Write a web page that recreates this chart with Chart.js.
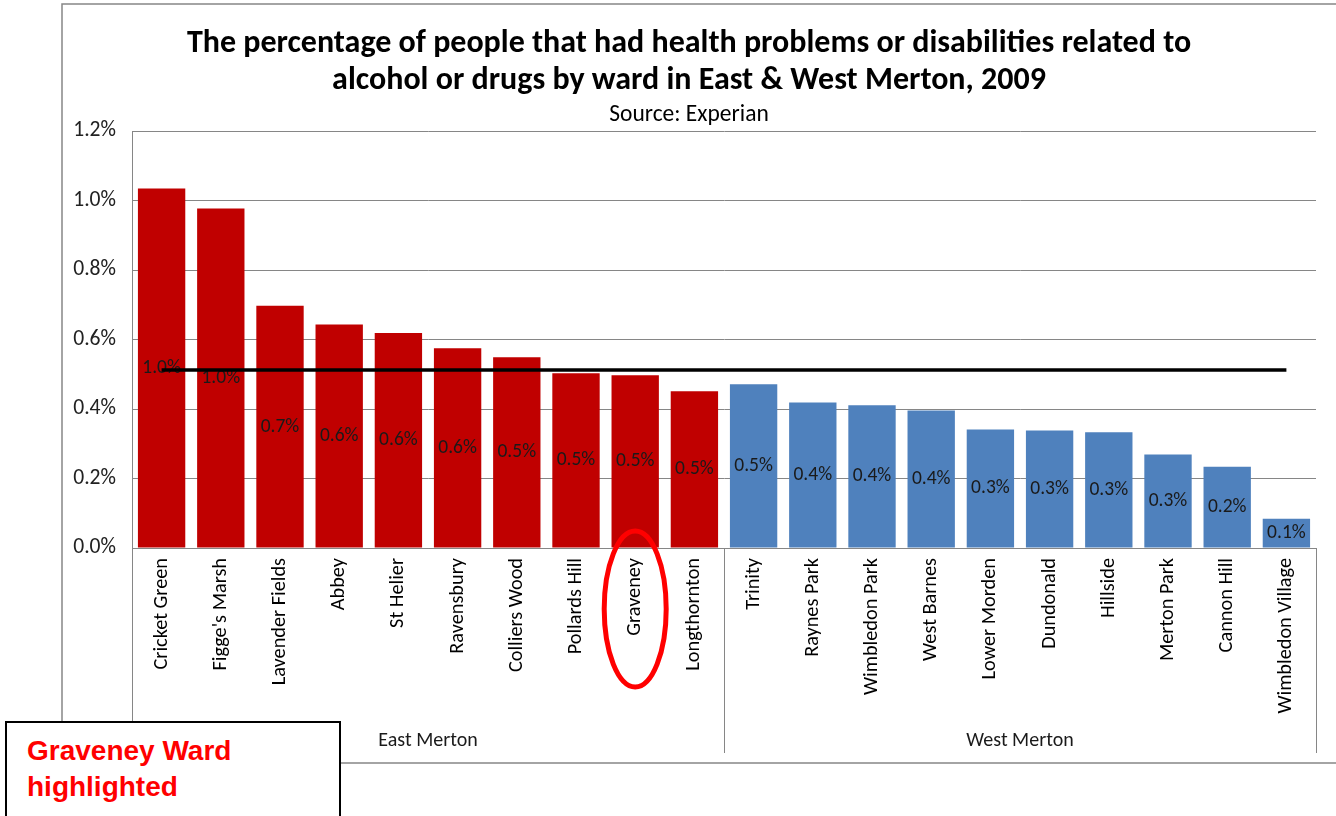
<!DOCTYPE html>
<html>
<head>
<meta charset="utf-8">
<script src="https://cdn.jsdelivr.net/npm/chart.js@4"></script>
<style>
  html, body { margin: 0; padding: 0; background: #fff; }
  #wrap { position: relative; width: 1336px; height: 816px; }
  #note {
    position: absolute; left: 5px; top: 721px; width: 336px; height: 110px;
    border: 2px solid #000; background: #fff; box-sizing: border-box;
    padding: 10px 0 0 20px;
    font: bold 28px "Liberation Sans", Arial, sans-serif; line-height: 36px; color: #ff0000;
  }
</style>
</head>
<body>
<div id="wrap">
  <canvas id="wardChart"></canvas>
  <div id="note">Graveney Ward<br>highlighted</div>
</div>
<script>
// Ward data (percent of people)
const wards = ['Cricket Green', "Figge's Marsh", 'Lavender Fields', 'Abbey', 'St Helier', 'Ravensbury',
  'Colliers Wood', 'Pollards Hill', 'Graveney', 'Longthornton',
  'Trinity', 'Raynes Park', 'Wimbledon Park', 'West Barnes', 'Lower Morden', 'Dundonald',
  'Hillside', 'Merton Park', 'Cannon Hill', 'Wimbledon Village'];
const values = [1.035, 0.977, 0.697, 0.643, 0.619, 0.575, 0.549, 0.503, 0.497, 0.451,
  0.471, 0.419, 0.411, 0.396, 0.341, 0.338, 0.333, 0.269, 0.234, 0.084];
const areas = ['East Merton', 'West Merton'];
const areaCounts = [10, 10];
const mertonAverage = 0.512;
const yTicks = [0, 0.2, 0.4, 0.6, 0.8, 1.0, 1.2];
const highlightWard = 'Graveney';

const areaColours = { 'East Merton': '#c00000', 'West Merton': '#4f81bd' };
const barColours = [];
areas.forEach((a, i) => { for (let k = 0; k < areaCounts[i]; k++) barColours.push(areaColours[a]); });

const FONT = "Carlito, 'Open Sans', sans-serif";
const GREY = '#868686';

// value labels in the middle of each bar, before the average line goes on top
const barLabels = {
  id: 'barLabels',
  afterDatasetDraw(chart, args) {
    if (args.index !== 0) return;
    const ctx = chart.ctx;
    ctx.save();
    ctx.font = '19.5px ' + FONT;
    ctx.fillStyle = '#1a1a1a';
    ctx.textAlign = 'center';
    ctx.textBaseline = 'middle';
    args.meta.data.forEach((bar, i) => {
      ctx.fillText(values[i].toFixed(1) + '%', bar.x, (bar.y + bar.base) / 2);
    });
    ctx.restore();
  }
};

// frame, group labels under the axis and the highlight ring
const extras = {
  id: 'extras',
  afterDraw(chart) {
    const ctx = chart.ctx;
    const xs = chart.scales.x;
    const area = chart.chartArea;
    const groupBottom = 753;
    ctx.save();
    ctx.strokeStyle = GREY;
    ctx.lineWidth = 1.5;
    ctx.strokeRect(62, 4, 1400, 759);

    // separators between area groups
    const step = xs.getPixelForValue(1) - xs.getPixelForValue(0);
    const edges = [xs.getPixelForValue(0) - step / 2];
    let start = 0;
    areaCounts.forEach(n => {
      start += n;
      edges.push(xs.getPixelForValue(start - 1) + step / 2);
    });
    ctx.lineWidth = 1;
    edges.forEach(x => {
      ctx.beginPath();
      ctx.moveTo(Math.round(x) + 0.5, area.bottom);
      ctx.lineTo(Math.round(x) + 0.5, groupBottom);
      ctx.stroke();
    });

    ctx.font = '20px ' + FONT;
    ctx.fillStyle = '#1a1a1a';
    ctx.textAlign = 'center';
    ctx.textBaseline = 'middle';
    areas.forEach((a, i) => ctx.fillText(a, (edges[i] + edges[i + 1]) / 2, 741));

    // red ring round the highlighted ward
    const hx = xs.getPixelForValue(wards.indexOf(highlightWard));
    ctx.strokeStyle = '#ff0000';
    ctx.lineWidth = 5;
    ctx.beginPath();
    ctx.ellipse(hx, 609, 31, 78, 0, 0, Math.PI * 2);
    ctx.stroke();
    ctx.restore();
  }
};

new Chart(document.getElementById('wardChart'), {
  data: {
    labels: wards,
    datasets: [
      {
        type: 'bar',
        data: values,
        backgroundColor: barColours,
        borderWidth: 0,
        barPercentage: 0.8,
        categoryPercentage: 1.0,
        order: 1
      },
      {
        type: 'line',
        data: wards.map(() => mertonAverage),
        borderColor: '#000',
        borderWidth: 3.5,
        pointRadius: 0,
        fill: false,
        order: 0
      }
    ]
  },
  options: {
    responsive: true,
    maintainAspectRatio: false,
    animation: false,
    layout: { padding: { left: 62, right: 20, top: 0, bottom: 53 } },
    plugins: {
      legend: { display: false },
      tooltip: { enabled: false },
      title: {
        display: true,
        text: ['The percentage of people that had health problems or disabilities related to',
          'alcohol or drugs by ward in East & West Merton, 2009'],
        color: '#000',
        font: { family: FONT, size: 32, weight: 'bold', lineHeight: 1.17 },
        padding: { top: 25, bottom: 0 }
      },
      subtitle: {
        display: true,
        text: 'Source: Experian',
        color: '#000',
        font: { family: FONT, size: 23.5, lineHeight: 1.2 },
        padding: { top: 1, bottom: 2 }
      }
    },
    scales: {
      x: {
        grid: { display: false, drawTicks: false },
        border: { color: GREY, width: 1 },
        ticks: {
          color: '#000',
          font: { family: FONT, size: 20.3 },
          minRotation: 90, maxRotation: 90,
          padding: 10,
          autoSkip: false
        },
        afterFit(s) { s.height = 215; }
      },
      y: {
        min: 0, max: 1.2,
        afterBuildTicks(s) { s.ticks = yTicks.map(v => ({ value: v })); },
        grid: { color: GREY, drawTicks: false },
        border: { color: GREY, width: 1 },
        ticks: {
          color: '#222',
          font: { family: FONT, size: 21.6 },
          padding: 16,
          callback: v => v.toFixed(1) + '%'
        },
        afterFit(s) { s.width = 70; }
      }
    }
  },
  plugins: [barLabels, extras]
});
</script>
</body>
</html>
